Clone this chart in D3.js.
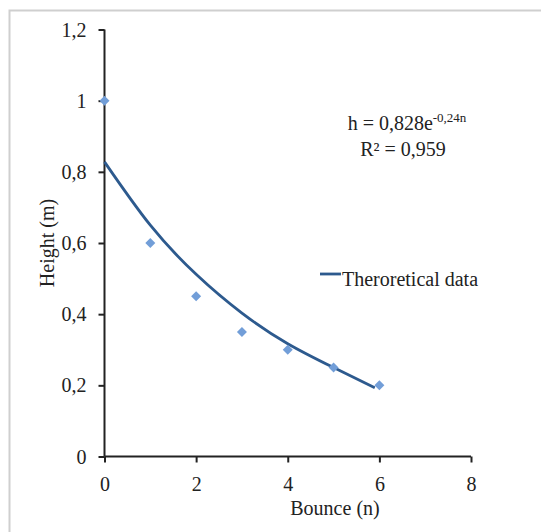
<!DOCTYPE html>
<html><head><meta charset="utf-8">
<script src="https://cdn.jsdelivr.net/npm/d3@7"></script>
<style>
html,body{margin:0;padding:0;background:#fff;}
text{font-family:"Liberation Serif","Times New Roman",serif;fill:#222;}
</style></head>
<body>
<svg id="c" width="541" height="532"></svg>
<script>
// Data
const bounces = [0, 1, 2, 3, 4, 5, 6];
const heights = [1.0, 0.6, 0.45, 0.35, 0.3, 0.25, 0.2];
// trend line
const trendN = [0, 1, 2, 3, 4, 5, 5.9];
const trendH = [0.828, 0.65, 0.512, 0.403, 0.317, 0.25, 0.193];
const xTicks = [0, 2, 4, 6, 8];
const yTicks = [0, 0.2, 0.4, 0.6, 0.8, 1, 1.2];
const yTickLabels = ["0", "0,2", "0,4", "0,6", "0,8", "1", "1,2"];
const legendLabel = "Theroretical data";
const eqLine1 = "h = 0,828e";
const eqExp = "-0,24n";
const eqLine2 = "R² = 0,959";

const FS = 20;
const svg = d3.select("#c");
// outer border
svg.append("rect").attr("x", 9.5).attr("y", 10.5).attr("width", 560).attr("height", 560)
  .attr("fill", "none").attr("stroke", "#cfcfcf").attr("stroke-width", 2);

const x = d3.scaleLinear().domain([0, 8]).range([104.5, 471]);
const y = d3.scaleLinear().domain([0, 1.2]).range([456.5, 29.5]);

const xAxis = svg.append("g").attr("transform", `translate(0,${y(0)})`)
  .call(d3.axisBottom(x).tickValues(xTicks).tickSize(6).tickPadding(16).tickFormat(d3.format("d")));
const yAxis = svg.append("g").attr("transform", `translate(${x(0)},0)`)
  .call(d3.axisLeft(y).tickValues(yTicks).tickSize(6).tickPadding(12).tickFormat((d, i) => yTickLabels[i]));
[xAxis, yAxis].forEach(g => {
  g.select(".domain").attr("stroke", "#222").attr("stroke-width", 2);
  g.selectAll(".tick line").attr("stroke", "#222").attr("stroke-width", 2);
  g.selectAll(".tick text").attr("font-family", "Liberation Serif").attr("font-size", FS).attr("fill", "#222");
});
xAxis.select(".domain").attr("d", `M${x(0)},0H${x(8)}`);
yAxis.select(".domain").attr("d", `M0,${y(0)}V${y(1.2)}`);
yAxis.selectAll(".tick text").attr("dy", "0.33em");
xAxis.selectAll(".tick text").attr("dy", "0.6em");

// trend line
const line = d3.line().x((d, i) => x(trendN[i])).y(d => y(d)).curve(d3.curveNatural);
svg.append("path").datum(trendH).attr("d", line)
  .attr("fill", "none").attr("stroke", "#2d5a8e").attr("stroke-width", 2.8);

// points
svg.append("g").selectAll("path").data(bounces).join("path")
  .attr("d", d3.symbol(d3.symbolSquare, 50)())
  .attr("transform", (d, i) => `translate(${x(d)},${y(heights[i])}) rotate(45)`)
  .attr("fill", "#729ed8");

// equation
const eq = svg.append("text").attr("x", 407).attr("y", 130).attr("text-anchor", "middle")
  .attr("font-size", FS);
eq.append("tspan").text(eqLine1);
eq.append("tspan").attr("dy", -8).attr("font-size", 13).text(eqExp);
svg.append("text").attr("x", 403).attr("y", 156).attr("text-anchor", "middle")
  .attr("font-size", FS).text(eqLine2);

// legend
svg.append("line").attr("x1", 320).attr("x2", 341).attr("y1", 274)
  .attr("y2", 274).attr("stroke", "#2d5a8e").attr("stroke-width", 2.8);
svg.append("text").attr("x", 342).attr("y", 286).attr("font-size", FS).text(legendLabel);

// axis titles
svg.append("text").attr("x", 335).attr("y", 515).attr("text-anchor", "middle")
  .attr("font-size", FS).text("Bounce (n)");
svg.append("text").attr("transform", `translate(54,${243}) rotate(-90)`).attr("text-anchor", "middle")
  .attr("font-size", FS).text("Height (m)");
</script>
</body></html>
